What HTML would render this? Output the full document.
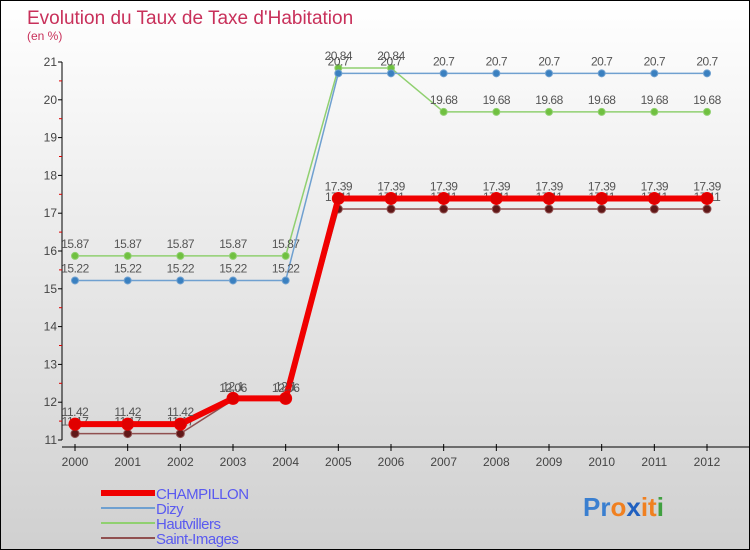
<!DOCTYPE html>
<html><head><meta charset="utf-8"><style>
body{margin:0}
#c{width:748px;height:548px;border:1px solid #000;background:linear-gradient(#fff,#d0d0d0);position:relative;font-family:"Liberation Sans",sans-serif}
</style></head><body>
<div id="c">
<svg id="s" width="748" height="548" style="position:absolute;left:0;top:0">
<text x="26" y="23" font-size="19" fill="#c8305a">Evolution du Taux de Taxe d'Habitation</text>
<text x="26" y="39" font-size="12" fill="#c8305a">(en %)</text>
<g id="axes"></g><g id="series"></g><g id="legend"></g>
<text x="582" y="515" font-size="26" font-weight="bold"><tspan fill="#3a7fd0">Pr</tspan><tspan fill="#f08020">o</tspan><tspan fill="#2060c0">x</tspan><tspan fill="#f08020">it</tspan><tspan fill="#40a040">i</tspan></text>
</svg></div>
<script>
const years=[2000,2001,2002,2003,2004,2005,2006,2007,2008,2009,2010,2011,2012];
const yTicks=[11,12,13,14,15,16,17,18,19,20,21];
const champillon=[11.42,11.42,11.42,12.1,12.1,17.39,17.39,17.39,17.39,17.39,17.39,17.39,17.39];
const dizy=[15.22,15.22,15.22,15.22,15.22,20.7,20.7,20.7,20.7,20.7,20.7,20.7,20.7];
const hautvillers=[15.87,15.87,15.87,15.87,15.87,20.84,20.84,19.68,19.68,19.68,19.68,19.68,19.68];
const saintImages=[11.17,11.17,11.17,12.06,12.06,17.11,17.11,17.11,17.11,17.11,17.11,17.11,17.11];
const NS="http://www.w3.org/2000/svg";
const X=i=>74+i*(632/12), Y=v=>439-(v-11)*37.8;
function mk(t,a,p){const e=document.createElementNS(NS,t);for(const k in a)e.setAttribute(k,a[k]);p.appendChild(e);return e;}
const ax=document.getElementById('axes');
let e=mk('line',{x1:61,y1:Y(21),x2:61,y2:Y(11),stroke:'#000'},ax);

e=mk('line',{x1:61,y1:446,x2:748,y2:446,stroke:'#000'},ax);

yTicks.forEach(v=>{
 mk('line',{x1:57,y1:Y(v),x2:61,y2:Y(v),stroke:'#000'},ax);
 if(v<21)mk('line',{x1:58,y1:Y(v+0.5),x2:61,y2:Y(v+0.5),stroke:'#d00'},ax);
 const t=mk('text',{x:56,y:Y(v)+4,'font-size':12,fill:'#444','text-anchor':'end'},ax);t.textContent=v;
 
});
years.forEach((y,i)=>{
 mk('line',{x1:X(i),y1:443,x2:X(i),y2:450,stroke:'#000'},ax);
 const t=mk('text',{x:X(i),y:465,'font-size':12,fill:'#444','text-anchor':'middle'},ax);t.textContent=y;
 
});
const sg=document.getElementById('series');
function draw(vals,color,w,r,dot,name){
 const g=mk('g',{},sg);
 
 mk('polyline',{points:vals.map((v,i)=>X(i)+','+Y(v)).join(' '),fill:'none',stroke:color,'stroke-width':w,'stroke-linejoin':'round'},g);
 vals.forEach((v,i)=>{
  const c=mk('circle',{cx:X(i),cy:Y(v),r:r,fill:dot,stroke:color},g);
  
  const t=mk('text',{x:X(i),y:Y(v)-8,'font-size':12,fill:'#555','text-anchor':'middle','letter-spacing':'-0.5'},g);t.textContent=v;
 });
}
draw(hautvillers,'#90d070',1.5,3.5,'#70c040','hautvillers');
draw(dizy,'#6fa0d0',1.5,3.5,'#3a80c0','dizy');
draw(saintImages,'#905050',1.5,4,'#601818','saint-images');
draw(champillon,'#f00000',6,6,'#e00000','champillon');
const lg=document.getElementById('legend');
[['CHAMPILLON','#f00000',6],['Dizy','#6fa0d0',2],['Hautvillers','#90d070',2],['Saint-Images','#905050',2]].forEach((d,i)=>{
 const y=492+i*15;
 const g=mk('g',{},lg);
 
 mk('line',{x1:100,y1:y,x2:154,y2:y,stroke:d[1],'stroke-width':d[2]},g);
 const t=mk('text',{x:155,y:y+6,'font-size':15,fill:'#5a5af0','letter-spacing':'-0.5'},g);t.textContent=d[0];
});
</script></body></html>
